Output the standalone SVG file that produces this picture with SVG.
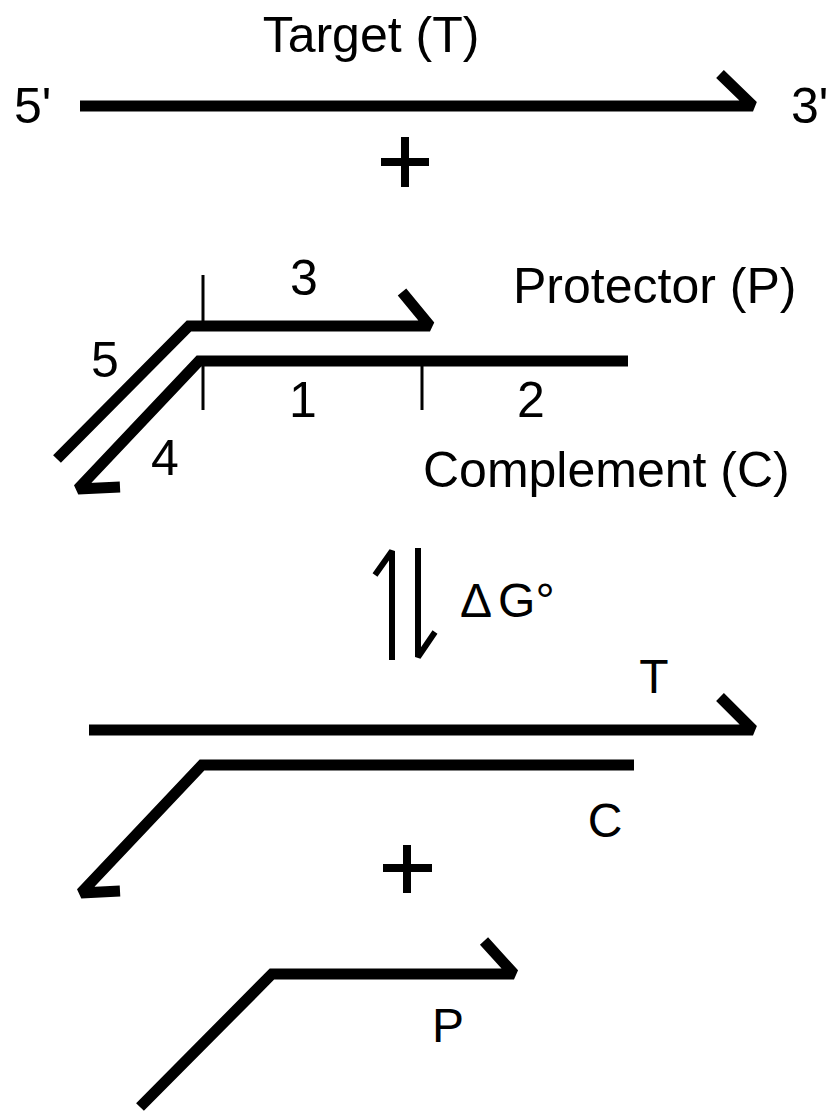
<svg xmlns="http://www.w3.org/2000/svg" width="830" height="1112" viewBox="0 0 830 1112">
<style>
.strand{fill:none;stroke:#000;stroke-width:11;stroke-linejoin:miter;stroke-miterlimit:2;stroke-linecap:butt}
.tick{fill:none;stroke:#000;stroke-width:3}
.plus{fill:none;stroke:#000;stroke-width:8}
.eq{fill:none;stroke:#000;stroke-width:6;stroke-linejoin:miter;stroke-miterlimit:2}
text{font-family:"Liberation Sans",Arial,sans-serif;fill:#000}
.big{font-size:50px}
.lbl{font-size:48px}
</style>
<rect width="830" height="1112" fill="#fff"/>
<g id="target">
<text class="big" x="371" y="52" text-anchor="middle">Target (T)</text>
<text class="big" x="14" y="123">5'</text>
<text class="big" x="791" y="123">3'</text>
<path class="strand" d="M80,106 H753 L720,74"/>
</g>
<g id="plus1"><path class="plus" d="M405,137 V187 M381,162 H429"/></g>
<g id="protector">
<path class="strand" d="M57,459 L189,326 H430 L402,292"/>
<text class="big" x="513" y="303">Protector (P)</text>
<text class="big" x="304" y="295" text-anchor="middle">3</text>
<text class="big" x="105" y="377" text-anchor="middle">5</text>
</g>
<g id="complement">
<path class="strand" d="M628,361 H199 L78,489 L120,487"/>
<text class="big" x="423" y="487">Complement (C)</text>
<text class="big" x="303" y="417" text-anchor="middle">1</text>
<text class="big" x="531" y="417" text-anchor="middle">2</text>
<text class="big" x="165" y="475" text-anchor="middle">4</text>
</g>
<g id="ticks">
<path class="tick" d="M203,275 V326 M203,361 V410 M422,361 V410"/>
</g>
<g id="connectors">
<path class="eq" d="M392,660 V551 L375,575"/>
<path class="eq" d="M418,548 V657 L435,632"/>
<text class="lbl" x="460" y="617">Δ<tspan dx="6">G°</tspan></text>
</g>
<g id="tc-duplex">
<path class="strand" d="M89,730 H753 L720,697"/>
<text class="lbl" x="654" y="693" text-anchor="middle">T</text>
<path class="strand" d="M634,765 H202 L81,893 L120,891"/>
<text class="lbl" x="605" y="837" text-anchor="middle">C</text>
</g>
<g id="plus2"><path class="plus" d="M407,845 V893 M383,868 H432"/></g>
<g id="protector-free">
<path class="strand" d="M140,1107 L272,974 H514 L484,941"/>
<text class="lbl" x="448" y="1042" text-anchor="middle">P</text>
</g>
</svg>
